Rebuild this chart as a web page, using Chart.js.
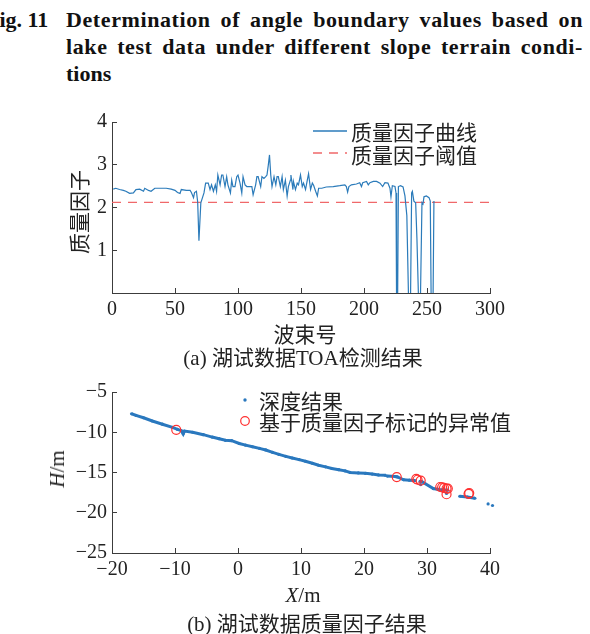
<!DOCTYPE html>
<html>
<head>
<meta charset="utf-8">
<script src="https://cdn.jsdelivr.net/npm/chart.js@4.4.0/dist/chart.umd.min.js"></script>
<style>
body{margin:0;width:590px;height:634px;overflow:hidden;background:#fff;position:relative;color:#222;font-family:"Liberation Serif","Noto Sans CJK SC",serif}
.abs{position:absolute;white-space:nowrap}
.c{transform:translate(-50%,-50%)}
.title{position:absolute;left:66px;top:6px;width:517px;font:bold 22px/27px "Liberation Serif",serif;color:#111}
.title .j{text-align:justify;text-align-last:justify;letter-spacing:0.6px}
.lab{font-size:21px;line-height:24px}
.cjk{font-family:"Noto Sans CJK SC",sans-serif}
.rot{transform:translate(-50%,-50%) rotate(-90deg)}
.box{position:absolute;left:0;width:590px}
</style>
</head>
<body>
<div class="abs" style="left:-14px;top:6px;font:bold 22px/27px 'Liberation Serif',serif;color:#111">Fig. 11</div>
<div class="title">
  <div class="j">Determination of angle boundary values based on</div>
  <div class="j">lake test data under different slope terrain condi-</div>
  <div>tions</div>
</div>

<div class="box" style="top:100px;height:230px"><canvas id="chartA" width="590" height="230"></canvas></div>
<div class="box" style="top:370px;height:240px"><canvas id="chartB" width="590" height="240"></canvas></div>

<!-- chart (a) texts -->
<div class="abs lab cjk rot" style="left:78px;top:212px">质量因子</div>
<div class="abs lab cjk c" style="left:305px;top:333px">波束号</div>
<div class="abs lab c" style="left:303px;top:358px">(a) 湖试数据TOA检测结果</div>
<svg class="abs" style="left:313px;top:125px" width="36" height="34">
  <line x1="0" y1="6" x2="34" y2="6" stroke="#2b7bba" stroke-width="1.3"/>
  <line x1="0" y1="28" x2="34" y2="28" stroke="#f0686a" stroke-width="1.4" stroke-dasharray="9 7"/>
</svg>
<div class="abs lab cjk" style="left:351px;top:119px">质量因子曲线</div>
<div class="abs lab cjk" style="left:351px;top:142px">质量因子阈值</div>

<!-- chart (b) texts -->
<div class="abs lab rot" style="left:57px;top:469px"><i>H</i>/m</div>
<div class="abs lab c" style="left:303px;top:595px"><i>X</i>/m</div>
<div class="abs lab c" style="left:307px;top:624px">(b) 湖试数据质量因子结果</div>
<svg class="abs" style="left:238px;top:392px" width="16" height="36">
  <circle cx="7" cy="8" r="1.7" fill="#2a78be"/>
  <circle cx="7" cy="29" r="4.3" fill="none" stroke="#ff3030" stroke-width="1.2"/>
</svg>
<div class="abs lab cjk" style="left:259px;top:388px">深度结果</div>
<div class="abs lab cjk" style="left:259px;top:409px">基于质量因子标记的异常值</div>

<script>
// (a) quality factor curve
const beamNo = [1,3,6,9,11,14,17,19,22,25,26,29,31,34,38,43,47,50,52,54,55,59,62,63,64.7,65.5,67,68,69,70.5,73,74.3,76.4,
  77.8,79,80.5,82,83,84,85.8,87,88,89.7,91,92,94,95,96,97.6,99,100,101.6,103,104,105.6,107,109.6,111,112,114,115,116,118,119,
  120.6,122,123,124,125,126,127,128.6,130,131,132,133.6,135,136,137.6,139,140,141.6,142,143.6,144,145.6,147,148,149.6,151,152,
  153.6,155,156,157.6,159,160,161.6,163,164,166.5,170,175.6,180.8,184.8,186,187,188,190,194,196.6,198,199,202,203.4,204.7,
  207.4,210,212.7,214.8,216.6,219,220.6,221.4,222.5,224.6,225.4,225.9,226.6,227.3,229,231,232.5,234,235.6,236.8,237.8,238.4,
  239.6,241,242,243.6,244.6,246,246.8,247.6,249.5,251.6,252.6,253.4,254.7,255.5]
const qualityFactor = [2.43,2.45,2.42,2.40,2.38,2.33,2.34,2.42,2.43,2.38,2.45,2.40,2.38,2.45,2.45,2.45,2.43,2.40,2.35,2.33,2.42,2.40,2.40,2.35,2.23,2.35,2.38,2.13,1.22,2.11,2.34,2.57,2.57,
  2.42,2.53,2.38,2.53,2.38,2.76,2.53,2.76,2.76,2.49,2.72,2.53,2.34,2.64,2.49,2.49,2.72,2.76,2.57,2.34,2.72,2.53,2.49,2.49,2.49,2.30,2.53,2.72,2.72,2.49,2.72,
  2.68,2.72,2.76,2.98,3.23,2.76,2.49,2.72,2.53,2.72,2.72,2.49,2.72,2.42,2.64,2.27,2.49,2.64,2.76,2.42,2.61,2.42,2.57,2.53,2.76,2.49,2.57,
  2.42,2.64,2.79,2.42,2.57,2.52,2.38,2.27,2.45,2.45,2.48,2.49,2.51,2.53,2.49,2.36,2.49,2.53,2.55,2.58,2.49,2.58,2.61,2.53,2.58,
  2.61,2.61,2.57,2.49,2.58,2.57,2.45,2.25,2.51,2.49,2.34,-0.5,-0.5,2.49,2.51,2.48,2.27,1.81,-0.5,-0.5,2.34,2.38,
  2.15,2.11,1.28,-0.5,-0.5,2.11,2.08,2.25,2.27,2.23,2.15,-0.5,-0.5,2.15]
const thresholdValue = 2.12
const thresholdBeams = [0, 300]

// (b) depth results and flagged outliers (null = gap in the track)
const depthX = [-16.9,-16.2,-15.0,-13.6,-12.0,-10.4,-9.6,-9.0,-8.7,-8.5,-7.2,-5.5,-4.1,-3.0,-2.0,-1.0,0.2,1.2,2.3,3.4,4.4,5.5,6.5,7.6,
  8.6,9.7,10.7,11.8,12.8,13.9,14.9,16.0,17.0,17.8,19.1,20.2,21.3,22.3,23.4,23.5,23.7,25.0,25.3,26.3,27.2,28.1,28.2,28.9,29.2,
  31.0,31.8,32.6,33.3,33.4,35.2,36.4,37.6,37.7,29.0,29.1,33.1,33.2,39.7,39.8,40.4]
const depthH = [-7.7,-7.9,-8.2,-8.6,-9.0,-9.4,-9.65,-9.8,-10.2,-9.85,-10.0,-10.3,-10.6,-10.8,-11.0,-11.05,-11.4,-11.6,-11.8,-12.0,-12.2,-12.5,-12.75,-13.0,
  -13.2,-13.4,-13.6,-13.85,-14.1,-14.3,-14.5,-14.65,-14.8,-15.0,-15.05,-15.1,-15.2,-15.3,-15.35,null,-15.45,-15.5,-15.55,-15.9,-15.95,-16.0,null,-16.1,-16.15,
  -17.0,-17.1,-17.15,-17.2,null,-17.95,-18.05,-18.2,null,-16.5,null,-17.6,null,-18.9,null,-19.1]
const outlierX = [-9.8,25.2,28.3,28.5,29.0,32.1,32.4,32.7,33.1,33.3,33.1,36.6,36.7]
const outlierH = [-9.7,-15.57,-15.8,-15.9,-16.0,-16.8,-16.85,-16.9,-17.0,-17.0,-17.7,-17.65,-17.55]

const axisColor = '#3c3c3c'
const tickFont = {family:'"Liberation Serif", serif', size:20}
const minus = v => String(v).replace('-', '\u2212')

function axis(opts, fit){
  return Object.assign({
    type:'linear',
    grid:{drawOnChartArea:false, tickLength:-5, color:axisColor, lineWidth:1},
    border:{color:axisColor, width:1},
    afterFit: fit
  }, opts)
}

new Chart(document.getElementById('chartA'), {
  type:'scatter',
  data:{datasets:[
    {label:'质量因子曲线', data:beamNo.map((b,i)=>({x:b, y:qualityFactor[i]})), showLine:true,
      borderColor:'#2b7bba', borderWidth:1.2, pointRadius:0, tension:0},
    {label:'质量因子阈值', data:thresholdBeams.map(b=>({x:b, y:thresholdValue})), showLine:true,
      borderColor:'#f0686a', borderWidth:1.4, borderDash:[9,7], pointRadius:0}
  ]},
  options:{
    responsive:false, animation:false,
    layout:{padding:{top:17, right:100, left:0, bottom:0}},
    plugins:{legend:{display:false}, tooltip:{enabled:false}},
    scales:{
      x:axis({min:0, max:300, ticks:{stepSize:50, font:tickFont, color:'#222', padding:10, maxRotation:0}}, s=>{s.height=37}),
      y:axis({min:0, max:4, ticks:{stepSize:1, font:tickFont, color:'#222', padding:10, callback:v=>v===0?'':v}}, s=>{s.width=112})
    }
  }
})

new Chart(document.getElementById('chartB'), {
  type:'scatter',
  data:{datasets:[
    {label:'基于质量因子标记的异常值', data:outlierX.map((x,i)=>({x, y:outlierH[i]})), order:0, clip:false,
      pointRadius:4.5, pointBorderColor:'#ff3030', pointBackgroundColor:'rgba(0,0,0,0)', pointBorderWidth:1.2},
    {label:'深度结果', data:depthX.map((x,i)=>({x, y:depthH[i]})), order:1, showLine:true, spanGaps:false, clip:false,
      borderColor:'#2a78be', borderWidth:3, pointRadius:1.6, pointBackgroundColor:'#2a78be', pointBorderWidth:0}
  ]},
  options:{
    responsive:false, animation:false,
    layout:{padding:{top:19, right:100, left:0, bottom:0}},
    plugins:{legend:{display:false}, tooltip:{enabled:false}},
    scales:{
      x:axis({min:-20, max:40, ticks:{stepSize:10, font:tickFont, color:'#222', padding:10, maxRotation:0, callback:minus}}, s=>{s.height=57}),
      y:axis({min:-25, max:-5, ticks:{stepSize:5, font:tickFont, color:'#222', padding:10, callback:minus}}, s=>{s.width=112})
    }
  }
})
</script>
</body>
</html>
